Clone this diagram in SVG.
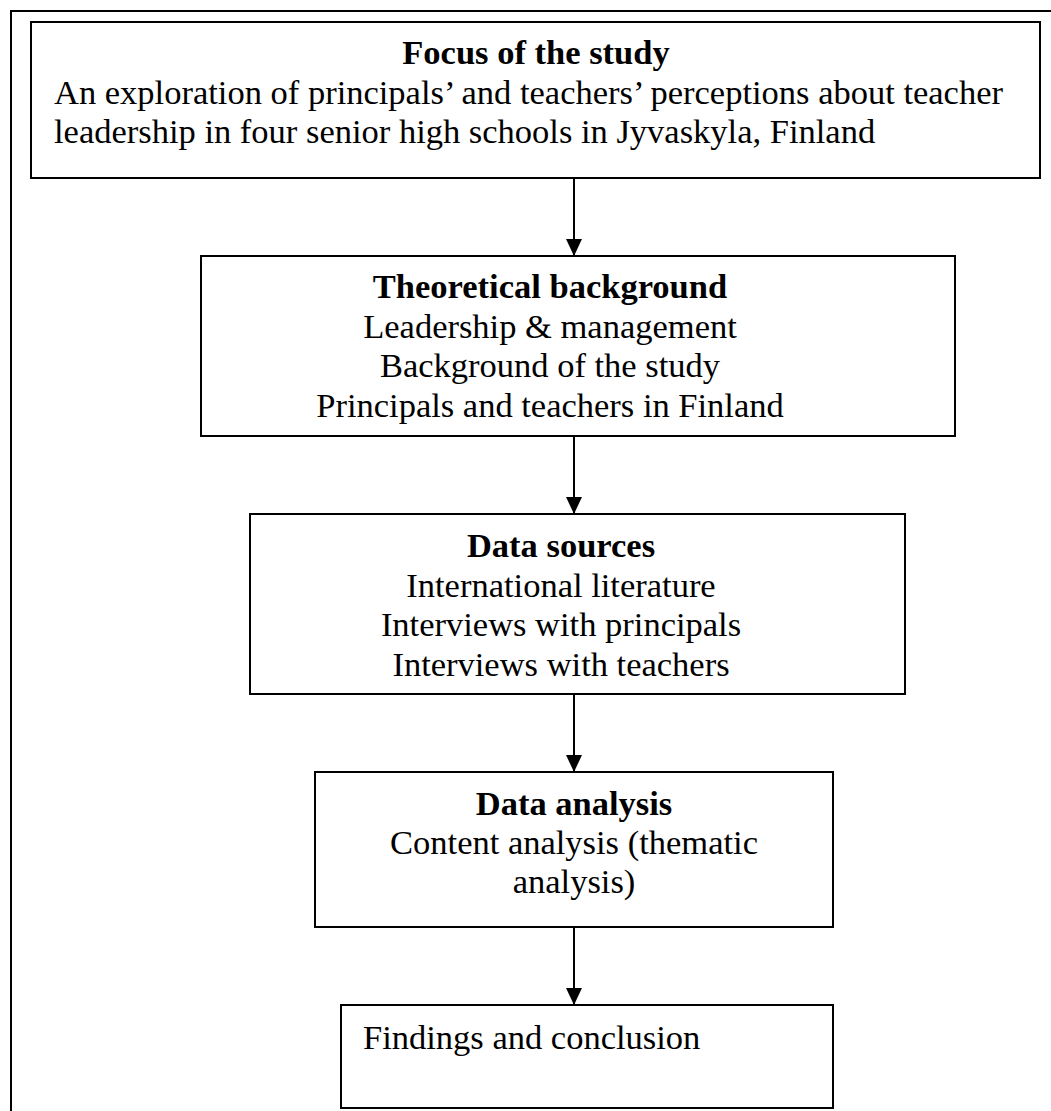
<svg xmlns="http://www.w3.org/2000/svg" width="1051" height="1111" viewBox="0 0 1051 1111">
<defs>
<marker id="arr" markerWidth="17" markerHeight="16" refX="17" refY="8" orient="auto" markerUnits="userSpaceOnUse" viewBox="0 0 17 16">
<path d="M0,0 L17,8 L0,16 Z" fill="#000"/>
</marker>
</defs>
<style>
.box{fill:#fff;stroke:#000;stroke-width:2}
.t{font-family:"Liberation Serif","Times New Roman",serif;font-size:34.5px;fill:#000;text-anchor:middle}
.s{text-anchor:start}
.b{font-weight:bold}
.conn{stroke:#000;stroke-width:2;fill:none}
</style>
<rect x="0" y="0" width="1051" height="1111" fill="#fff"/>
<rect x="11" y="11" width="1060" height="1120" fill="none" stroke="#000" stroke-width="2"/>
<g id="connectors">
<line class="conn" x1="574" y1="178" x2="574" y2="256" marker-end="url(#arr)"/>
<line class="conn" x1="574" y1="436" x2="574" y2="514" marker-end="url(#arr)"/>
<line class="conn" x1="574" y1="694" x2="574" y2="772" marker-end="url(#arr)"/>
<line class="conn" x1="574" y1="927" x2="574" y2="1005" marker-end="url(#arr)"/>
</g>
<g id="focus">
<rect class="box" x="31" y="22" width="1009" height="156"/>
<text class="t b" x="536" y="64">Focus of the study</text>
<text class="t s" x="54" y="103.5">An exploration of principals’ and teachers’ perceptions about teacher</text>
<text class="t s" x="54" y="143">leadership in four senior high schools in Jyvaskyla, Finland</text>
</g>
<g id="theory">
<rect class="box" x="201" y="256" width="754" height="180"/>
<text class="t b" x="550" y="298">Theoretical background</text>
<text class="t" x="550" y="337.5">Leadership &amp; management</text>
<text class="t" x="550" y="377">Background of the study</text>
<text class="t" x="550" y="416.5">Principals and teachers in Finland</text>
</g>
<g id="sources">
<rect class="box" x="250" y="514" width="655" height="180"/>
<text class="t b" x="561" y="557">Data sources</text>
<text class="t" x="561" y="596.5">International literature</text>
<text class="t" x="561" y="636">Interviews with principals</text>
<text class="t" x="561" y="675.5">Interviews with teachers</text>
</g>
<g id="analysis">
<rect class="box" x="315" y="772" width="518" height="155"/>
<text class="t b" x="574" y="815">Data analysis</text>
<text class="t" x="574" y="854">Content analysis (thematic</text>
<text class="t" x="574" y="893">analysis)</text>
</g>
<g id="findings">
<rect class="box" x="341" y="1005" width="492" height="103"/>
<text class="t s" x="363" y="1049">Findings and conclusion</text>
</g>
</svg>
